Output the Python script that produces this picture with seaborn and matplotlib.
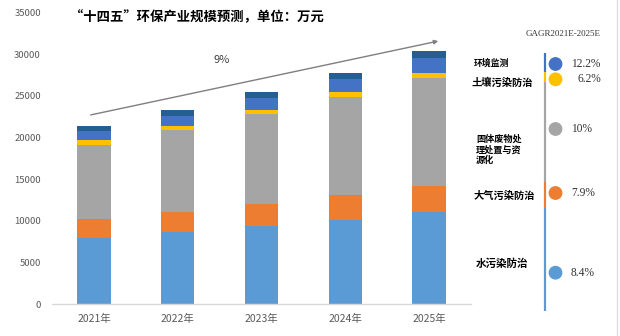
import matplotlib
matplotlib.use("Agg")
import matplotlib.pyplot as plt
import seaborn as sns
import pandas as pd
import numpy as np
from matplotlib.patches import Circle, FancyArrowPatch

sns.set_theme(style="white")
plt.rcParams['font.family'] = ['Noto Sans CJK SC', 'DejaVu Sans']

# ---- data ----
years = ["2021年", "2022年", "2023年", "2024年", "2025年"]
water = [7970, 8690, 9410, 10090, 11080]        # 水污染防治
air = [2250, 2400, 2640, 2980, 3100]            # 大气污染防治
solid = [8890, 9780, 10740, 11760, 12940]       # 固体废物处理处置与资源化
soil = [565, 550, 550, 600, 670]                # 土壤污染防治
monitor = [1150, 1165, 1410, 1600, 1800]        # 环境监测
other = [565, 720, 720, 690, 800]               # 其他
series_names = ["水污染防治", "大气污染防治", "固体废物处理处置与资源化", "土壤污染防治", "环境监测", "其他"]
series_values = [water, air, solid, soil, monitor, other]
colors = ["#5B9BD5", "#ED7D31", "#A5A5A5", "#FFC000", "#4472C4", "#255E91"]

side_labels = ["环境监测", "土壤污染防治", "固体废物处\n理处置与资\n源化", "大气污染防治", "水污染防治"]
side_cagr = ["12.2%", "6.2%", "10%", "7.9%", "8.4%"]
side_colors = ["#4472C4", "#FFC000", "#A5A5A5", "#ED7D31", "#5B9BD5"]
yticks = [0, 5000, 10000, 15000, 20000, 25000, 30000, 35000]
title = "“十四五”环保产业规模预测，单位：万元"
trend_label = "9%"
cagr_header = "GAGR2021E-2025E"

W, H = 620, 336
fig = plt.figure(figsize=(W / 100, H / 100), dpi=100)
ax = fig.add_axes([52 / W, 1 - 304 / H, (471 - 52) / W, (304 - 12.5) / H])

bottom = np.zeros(len(years))
for name, vals, col in zip(series_names, series_values, colors):
    df = pd.DataFrame({"year": years, "value": vals})
    sns.barplot(data=df, x="year", y="value", color=col, width=0.4,
                bottom=bottom, errorbar=None, ax=ax, saturation=1,
                linewidth=0, label=None)
    bottom = bottom + np.array(vals)

ax.set_xlim(-0.5, 4.5)
ax.set_ylim(0, 35000)
ax.set_yticks(yticks)
ax.set_yticklabels([str(v) for v in yticks], fontsize=6.8, color="#595959")
ax.tick_params(axis="x", labelsize=7.5, colors="#595959", length=0, pad=7)
ax.tick_params(axis="y", length=0, pad=8)
ax.set_xlabel("")
ax.set_ylabel("")
for s in ["top", "right", "left"]:
    ax.spines[s].set_visible(False)
ax.spines["bottom"].set_color("#D9D9D9")
ax.spines["bottom"].set_linewidth(1)
ax.grid(False)

# overlay in pixel coordinates for annotations
ov = fig.add_axes([0, 0, 1, 1], facecolor="none")
ov.set_xlim(0, W)
ov.set_ylim(H, 0)
ov.axis("off")

ov.text(70, 17, title, fontsize=9.6, fontweight="bold", color="black",
        ha="left", va="center")

arr = FancyArrowPatch((88, 115.5), (441, 40.5), arrowstyle="-|>", mutation_scale=6,
                      color="#7F7F7F", linewidth=1)
ov.add_patch(arr)
ov.text(222, 60, trend_label, fontsize=8, color="#404040", ha="center", va="center")

# right-hand CAGR panel
ov.text(563, 34, cagr_header, fontsize=6.5, family=["Liberation Serif"],
        color="#333333", ha="center", va="center")
seg_bounds = [(53, 72), (72, 82), (82, 182), (182, 208), (208, 311)]
for (y0, y1), col in zip(seg_bounds, side_colors):
    ov.plot([545, 545], [y0, y1], color=col, linewidth=1.6, solid_capstyle="butt")
circle_y = [64, 79.3, 129, 193, 272.7]
text_x = [571, 577, 571, 571, 571]
label_pos = [(474, 63), (472, 83), (476, 150), (474, 196), (476, 264)]
label_size = [6.4, 7.4, 6.6, 7.4, 7.6]
for i in range(len(side_labels)):
    ov.add_patch(Circle((555.5, circle_y[i]), 6.2, color=side_colors[i], zorder=3))
    ov.text(text_x[i], circle_y[i], side_cagr[i], fontsize=8.3,
            family=["Liberation Serif"], color="#333333", ha="left", va="center")
    ov.text(label_pos[i][0], label_pos[i][1], side_labels[i], fontsize=label_size[i],
            fontweight="bold", color="black", ha="left", va="center",
            linespacing=1.2)

ov.plot([617, 617], [0, H], color="#E0E0E0", linewidth=1)

fig.savefig("out.png", dpi=100)
